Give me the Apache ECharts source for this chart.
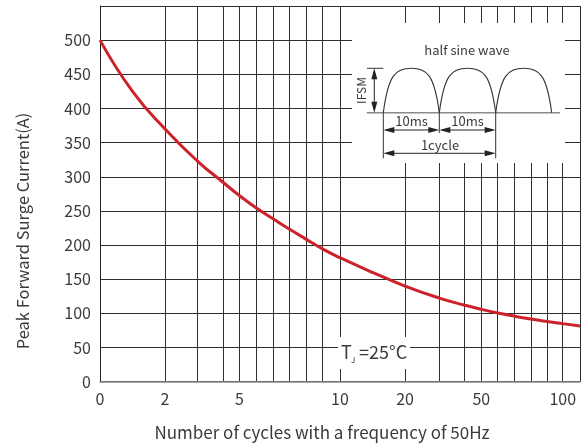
<!DOCTYPE html>
<html><head><meta charset="utf-8">
<script src="https://cdn.jsdelivr.net/npm/echarts@6/dist/echarts.min.js"></script>
<style>html,body{margin:0;padding:0;background:#fff}#c{width:587px;height:448px}</style>
</head><body><div id="c"></div>
<script>
// Printed (non-uniform) x scale of the reference: number of cycles -> position in "decades"
const xScaleCycles  = [1, 2, 3, 4, 5, 6, 7, 8, 9, 9.5, 10, 20, 30, 40, 50, 60, 70, 80, 90, 100, 110];
const xScaleDecades = [0, 0.271, 0.406, 0.5125, 0.581, 0.65, 0.721, 0.79, 0.86, 0.927, 1, 1.271, 1.414, 1.517, 1.589, 1.657, 1.727, 1.795, 1.8625, 1.928, 2];
// tick labels
const xLabelCycles = [1, 2, 5, 10, 20, 50, 100];
const xLabelTexts  = ['0', '2', '5', '10', '20', '50', '100'];
const yLabelValues = [0, 50, 100, 150, 200, 250, 300, 350, 400, 450, 500];
// curve: peak forward surge current vs number of cycles
const curveCycles  = [1, 1.5, 2, 3, 4, 5, 6, 7, 8, 9, 9.5, 10, 15, 20, 30, 40, 50, 60, 70, 80, 90, 100, 110];
const curveCurrent = [500, 425, 370, 323, 292, 272.4, 254.7, 238.5, 223.1, 208.4, 194.4, 181.5, 160, 140, 122.4, 112.2, 105.9, 100.6, 95.9, 91.8, 88.2, 85, 81.6];

function toPos(c) {
  for (let i = 0; i < xScaleCycles.length - 1; i++) {
    const a = xScaleCycles[i], b = xScaleCycles[i + 1];
    if (c >= a && c <= b) {
      return xScaleDecades[i] + (c - a) / (b - a) * (xScaleDecades[i + 1] - xScaleDecades[i]);
    }
  }
  return c < xScaleCycles[0] ? xScaleDecades[0] : xScaleDecades[xScaleDecades.length - 1];
}

const FONT = '"Noto Sans CJK SC","Noto Sans",sans-serif';
const TXT = '#3a3a3a';
const GRIDC = '#2e2e2e';
const DIA = '#4a4a4a';

const chart = echarts.init(document.getElementById('c'), null, {renderer: 'canvas'});

function arrow(tx, ty, dir) {
  const L = 11, W = 3;
  let pts;
  if (dir === 'up') pts = [[tx, ty], [tx - W, ty + L], [tx + W, ty + L]];
  if (dir === 'down') pts = [[tx, ty], [tx - W, ty - L], [tx + W, ty - L]];
  if (dir === 'left') pts = [[tx, ty], [tx + L, ty - W], [tx + L, ty + W]];
  if (dir === 'right') pts = [[tx, ty], [tx - L, ty - W], [tx - L, ty + W]];
  return {type: 'polygon', z: 101, shape: {points: pts}, style: {fill: '#222'}};
}
function line(x1, y1, x2, y2, w, c) {
  return {type: 'line', z: 101, shape: {x1, y1, x2, y2}, style: {stroke: c || DIA, lineWidth: w || 1}};
}
function hump(xs, xe, yb, h) {
  const w = xe - xs, xm = xs + w / 2;
  return [
    {type: 'bezierCurve', z: 101, shape: {x1: xs, y1: yb, cpx1: xs + 5, cpy1: yb - 0.85 * h, cpx2: xs + 12, cpy2: yb - h, x2: xm, y2: yb - h}, style: {stroke: '#333', lineWidth: 1.1, fill: null}},
    {type: 'bezierCurve', z: 101, shape: {x1: xm, y1: yb - h, cpx1: xe - 12, cpy1: yb - h, cpx2: xe - 5, cpy2: yb - 0.85 * h, x2: xe, y2: yb}, style: {stroke: '#333', lineWidth: 1.1, fill: null}}
  ];
}

const base = 112.7, peak = 68.3, H = base - peak;
const graphics = [
  // inset background
  {type: 'rect', z: 100, shape: {x: 352, y: 23, width: 213, height: 140}, style: {fill: '#fff'}},
  {type: 'text', z: 101, x: 467, y: 50, style: {text: 'half sine wave', font: '13px ' + FONT, fill: TXT, align: 'center', verticalAlign: 'middle'}},
  line(366.7, base, 560, base, 1.5, '#8a8a8a'),
  ...hump(383.3, 439.3, base, H),
  ...hump(439.3, 495.7, base, H),
  ...hump(495.7, 551.7, base, H),
  // IFSM dimension
  line(367, peak, 383.3, peak, 1, '#333'),
  line(374.3, peak + 6, 374.3, base - 6, 1, '#222'),
  arrow(374.3, peak, 'up'),
  arrow(374.3, base, 'down'),
  {type: 'text', z: 101, x: 361.5, y: 90.5, rotation: Math.PI / 2, style: {text: 'IFSM', font: '12px ' + FONT, fill: TXT, align: 'center', verticalAlign: 'middle'}},
  // extension lines
  line(383.3, base, 383.3, 158.3, 1, '#333'),
  line(439.3, base, 439.3, 133, 1, '#333'),
  line(495.7, base, 495.7, 158.3, 1, '#333'),
  // 10ms arrows
  line(388, 130, 434, 130, 1, '#222'),
  arrow(383.3, 130, 'left'), arrow(439.3, 130, 'right'),
  line(444, 130, 491, 130, 1, '#222'),
  arrow(439.3, 130, 'left'), arrow(495.7, 130, 'right'),
  {type: 'text', z: 101, x: 411.5, y: 121.5, style: {text: '10ms', font: '13px ' + FONT, fill: TXT, align: 'center', verticalAlign: 'middle'}},
  {type: 'text', z: 101, x: 467.5, y: 121.5, style: {text: '10ms', font: '13px ' + FONT, fill: TXT, align: 'center', verticalAlign: 'middle'}},
  // 1 cycle arrow
  line(388, 153.3, 491, 153.3, 1, '#222'),
  arrow(383.3, 153.3, 'left'), arrow(495.7, 153.3, 'right'),
  {type: 'text', z: 101, x: 440, y: 145, style: {text: '1cycle', font: '13px ' + FONT, fill: TXT, align: 'center', verticalAlign: 'middle'}},
  // Tj label
  {type: 'rect', z: 100, shape: {x: 338, y: 337, width: 72, height: 32}, style: {fill: '#fff'}},
  {type: 'text', z: 101, x: 341, y: 352, style: {text: 'T', font: '18px ' + FONT, fill: TXT, align: 'left', verticalAlign: 'middle'}},
  {type: 'text', z: 101, x: 351, y: 360, style: {text: 'J', font: '8px ' + FONT, fill: TXT, align: 'left', verticalAlign: 'middle'}},
  {type: 'text', z: 101, x: 359, y: 352, style: {text: '=25°C', font: '18px ' + FONT, fill: TXT, align: 'left', verticalAlign: 'middle'}},
  // axis titles
  {type: 'text', z: 101, x: 23, y: 231, rotation: Math.PI / 2, style: {text: 'Peak Forward Surge Current(A)', font: '16.5px ' + FONT, fill: TXT, align: 'center', verticalAlign: 'middle'}},
  {type: 'text', z: 101, x: 322, y: 433, style: {text: 'Number of cycles with a frequency of 50Hz', font: '17px ' + FONT, fill: TXT, align: 'center', verticalAlign: 'middle'}}
];

const option = {
  animation: false,
  backgroundColor: '#fff',
  grid: {left: 100, right: 7, top: 6, bottom: 66.3, containLabel: false},
  xAxis: {
    type: 'value', min: 0, max: 2,
    axisLine: {show: true, lineStyle: {color: '#8a8a8a', width: 1.5}},
    axisTick: {show: false, customValues: xScaleCycles.map(toPos)},
    splitLine: {show: true, lineStyle: {color: GRIDC, width: 1}},
    axisLabel: {
      customValues: xLabelCycles.map(toPos),
      margin: 9,
      color: TXT, fontSize: 16, fontFamily: FONT,
      formatter: function (v) {
        for (let i = 0; i < xLabelCycles.length; i++) {
          if (Math.abs(toPos(xLabelCycles[i]) - v) < 1e-6) return xLabelTexts[i];
        }
        return '';
      }
    }
  },
  yAxis: {
    type: 'value', min: 0, max: 550, interval: 50,
    axisLine: {show: true, lineStyle: {color: '#222', width: 1}},
    axisTick: {show: false},
    splitLine: {show: true, lineStyle: {color: GRIDC, width: 1}},
    axisLabel: {customValues: yLabelValues, margin: 9, color: TXT, fontSize: 16, fontFamily: FONT}
  },
  series: [{
    type: 'line',
    data: curveCycles.map((c, i) => [toPos(c), curveCurrent[i]]),
    smooth: 0.5,
    symbol: 'none',
    lineStyle: {color: '#cc2229', width: 3},
    z: 5
  }],
  graphic: {elements: graphics}
};
chart.setOption(option);
</script>
</body></html>
